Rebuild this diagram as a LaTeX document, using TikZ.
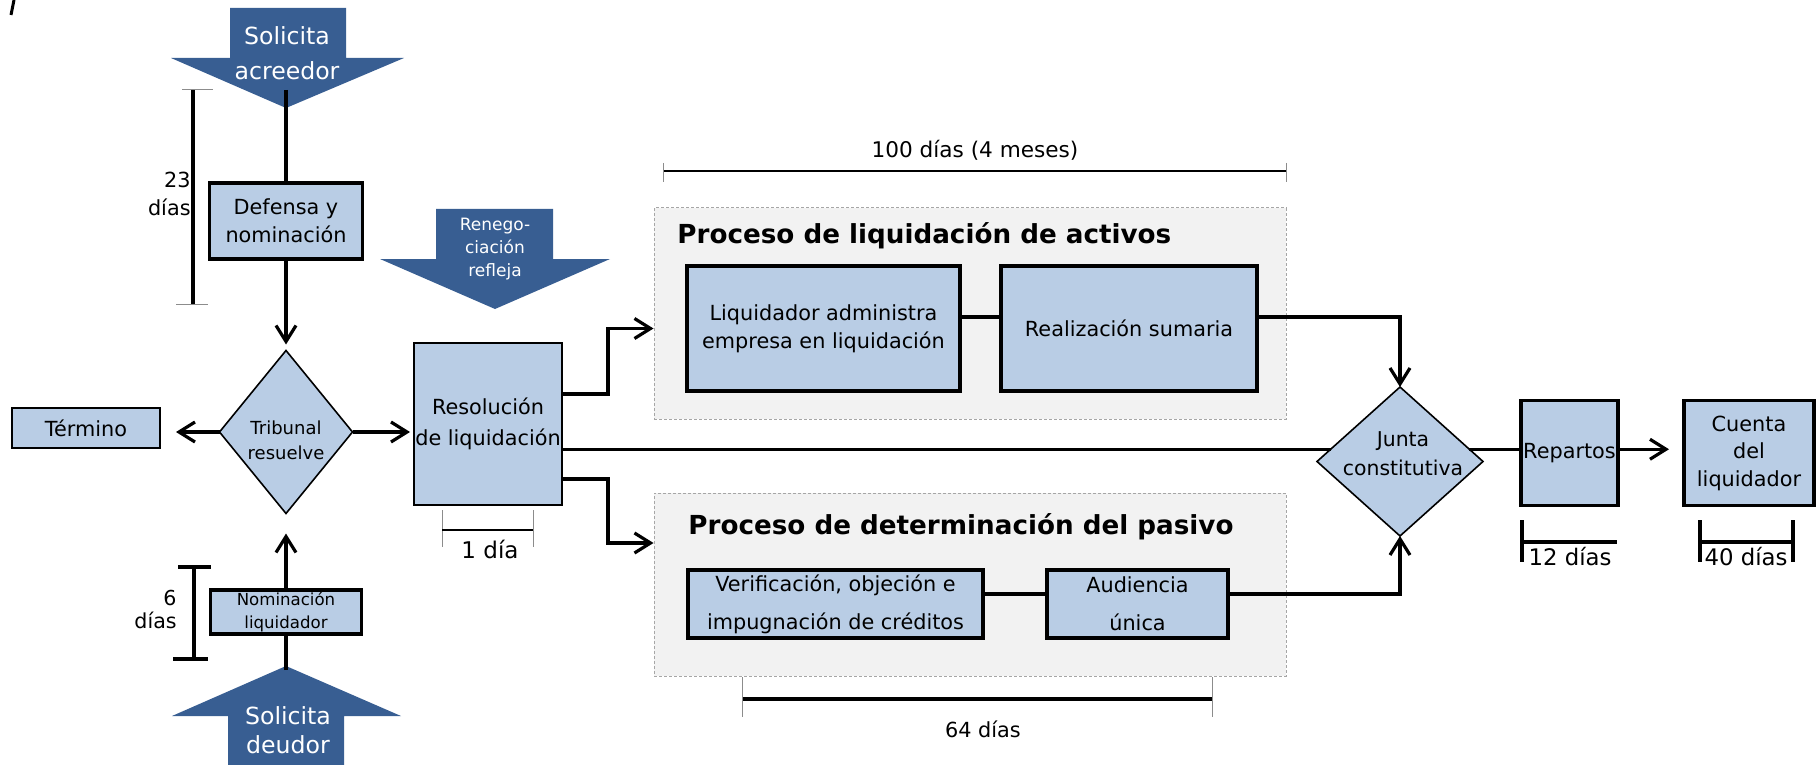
\documentclass[tikz,border=0pt]{standalone}
\usepackage{fontspec}
\setmainfont{DejaVu Sans}
\usetikzlibrary{arrows.meta}
\usetikzlibrary{shapes.geometric}
\definecolor{boxblue}{HTML}{B9CDE5}
\definecolor{darkblue}{HTML}{385E92}
\definecolor{groupgray}{HTML}{F2F2F2}
\definecolor{tickgray}{HTML}{8C8C8C}
\newcommand{\txtsize}[2]{\fontsize{#1}{#2}\selectfont}
\tikzstyle{phase}=[draw, line width=1.9pt, fill=boxblue, inner sep=0, outer sep=0, align=center]
\tikzstyle{thinphase}=[phase, line width=1pt]
\tikzstyle{decision}=[diamond, draw, line width=0.8pt, fill=boxblue, inner sep=0, outer sep=0]
\tikzstyle{groupbox}=[draw=gray!70, dash pattern=on 1.5pt off 1pt, line width=0.5pt, fill=groupgray, inner sep=0]
\tikzstyle{grouptitle}=[anchor=west, inner sep=0, font=\bfseries\txtsize{13.1}{16}]
\tikzstyle{bigarrow}=[fill=darkblue]
\tikzstyle{arrowtext}=[inner sep=0, align=center, text=white]
\tikzstyle{flow}=[line width=1.6pt]
\tikzstyle{flowto}=[flow, -{Straight Barb[length=8pt, width=10pt]}]
\tikzstyle{spanline}=[line width=1.65pt]
\tikzstyle{tickline}=[line width=0.5pt, draw=tickgray]
\tikzstyle{dimtext}=[inner sep=0, align=center]

\begin{document}
\begin{tikzpicture}[x=0.5pt, y=-0.5pt, every node/.style={font=\txtsize{10.4}{14}}]
    \useasboundingbox (0,0) rectangle (1817,765);
    % leftover stroke in the corner
    \draw[line width=1.5pt] (14,0) -- (11,15);

    % entry arrows
    \fill[bigarrow] (230,8) -- (346,8) -- (346,58) -- (404,58) -- (286,108) -- (171,58) -- (230,58) -- cycle;
    \node[arrowtext, font=\txtsize{11.8}{17.5}] (acreedor) at (287,53) {Solicita\\acreedor};
    \coordinate (acreedortip) at (286,90);
    \fill[bigarrow] (436,209) -- (553,209) -- (553,259) -- (610,259) -- (495,309) -- (380,259) -- (436,259) -- cycle;
    \node[arrowtext, font=\txtsize{8.5}{11.5}] (renegociacion) at (495,249) {Renego-\\ciación\\refleja};
    \fill[bigarrow] (228,765) -- (228,716) -- (172,716) -- (286,666) -- (401,716) -- (344,716) -- (344,765) -- cycle;
    \node[arrowtext, font=\txtsize{11.8}{14.5}] (deudor) at (288,730) {Solicita\\deudor};
    \coordinate (deudortip) at (286,670);

    % process groups
    \node[groupbox, minimum width=316pt, minimum height=105.5pt] (activos) at (970,313.5) {};
    \node[grouptitle] (activostitle) at (677,236) {Proceso de liquidación de activos};
    \node[groupbox, minimum width=316pt, minimum height=91.5pt] (pasivo) at (970,584.5) {};
    \node[grouptitle] (pasivotitle) at (688,527) {Proceso de determinación del pasivo};

    % steps
    \node[phase, minimum width=76.5pt, minimum height=38pt] (defensa) at (286,221) {Defensa y\\nominación};
    \node[decision, minimum width=66.5pt, minimum height=81.5pt] (tribunal) at (286,432) {};
    \node[dimtext, font=\txtsize{9}{12.5}] (tribunaltext) at (286,440) {Tribunal\\resuelve};
    \node[thinphase, minimum width=74pt, minimum height=20pt] (termino) at (86,428) {Término};
    \node[phase, minimum width=75.5pt, minimum height=22pt, font=\txtsize{8.3}{11.5}] (nominacion) at (286,612) {Nominación\\liquidador};
    \node[thinphase, minimum width=74pt, minimum height=81pt, font=\txtsize{10.4}{15.5}] (resolucion) at (488,424) {Resolución\\de liquidación};
    \node[phase, minimum width=136.5pt, minimum height=62.5pt] (liquidador) at (823.5,328.5) {Liquidador administra\\empresa en liquidación};
    \node[phase, minimum width=128pt, minimum height=62.5pt] (realizacion) at (1129,328.5) {Realización sumaria};
    \node[phase, minimum width=147.5pt, minimum height=34pt, font=\txtsize{10.4}{19}] (verificacion) at (835.5,604) {Verificación, objeción e\\impugnación de créditos};
    \node[phase, minimum width=90.5pt, minimum height=34pt, font=\txtsize{10.4}{19}] (audiencia) at (1137.5,604) {Audiencia\\única};
    \node[decision, minimum width=83pt, minimum height=74.5pt] (junta) at (1400,461.5) {};
    \node[dimtext, font=\txtsize{10.2}{14.5}] (juntatext) at (1403,454) {Junta\\constitutiva};
    \node[phase, minimum width=48.5pt, minimum height=52.5pt] (repartos) at (1569.5,453) {Repartos};
    \node[phase, minimum width=65pt, minimum height=52.5pt, font=\txtsize{10.4}{13.75}] (cuenta) at (1749,453) {Cuenta\\del\\liquidador};

    % connectors
    \draw[flow] (acreedortip) -- (defensa);
    \draw[flowto, shorten >=3pt] (defensa) -- (tribunal);
    \draw[flowto, shorten >=8pt] (tribunal.west) -- (tribunal.west -| termino.east);
    \draw[flowto, shorten >=2pt] (tribunal.east) -- (tribunal.east -| resolucion.west);
    \draw[flow] (deudortip) -- (nominacion);
    \draw[flowto, shorten >=10pt] (nominacion) -- (tribunal);
    \draw[flowto] ([yshift=15pt]resolucion.east) -- ++(46,0) |- (activos.west |- liquidador);
    \draw[flowto] ([yshift=-27.5pt]resolucion.east) -- ++(46,0) |- ([yshift=20.75pt]pasivo.west);
    \draw[flow] (resolucion.east |- junta.170) -- (junta.170);
    \draw[flow] ([yshift=5.75pt]liquidador.east) -- ([yshift=5.75pt]realizacion.west);
    \draw[flowto] ([yshift=5.75pt]realizacion.east) -| (junta.north);
    \draw[flow] ([yshift=5pt]verificacion.east) -- ([yshift=5pt]audiencia.west);
    \draw[flowto] ([yshift=5pt]audiencia.east) -| (junta.south);
    \draw[flow] (junta.10) -- (repartos.west |- junta.10);
    \draw[flowto, shorten >=7.5pt] (repartos.east |- junta.10) -- (cuenta.west |- junta.10);

    % durations
    \draw[spanline] (193,90) -- (193,304);
    \draw[tickline] (182,90) -- (213,90);
    \draw[tickline] (176,304) -- (208,304);
    \node[dimtext, anchor=east, align=right] (dias23) at (191,194) {23\\días};
    \draw[spanline, line width=2pt] (194,567) -- (194,659);
    \draw[spanline, line width=2pt] (178,567) -- (211,567);
    \draw[spanline, line width=2pt] (173,659) -- (208,659);
    \node[dimtext, anchor=east, align=right, font=\txtsize{10.3}{11.5}] (dias6) at (177,609) {6\\días};
    \draw[tickline] (442,510) -- (442,547);
    \draw[tickline] (533,510) -- (533,547);
    \draw[spanline, line width=1pt] (442,530) -- (533,530);
    \node[dimtext, font=\txtsize{11.5}{14}] (dias1) at (490,549) {1 día};
    \draw[spanline, line width=1pt] (663,171) -- (1286,171);
    \draw[tickline] (663,163) -- (663,182);
    \draw[tickline] (1286,163) -- (1286,182);
    \node[dimtext, font=\txtsize{10.8}{14}] (dias100) at (975,150) {100 días (4 meses)};
    \draw[spanline] (742,699) -- (1212,699);
    \draw[tickline] (742,677) -- (742,717);
    \draw[tickline] (1212,677) -- (1212,717);
    \node[dimtext] (dias64) at (983,729) {64 días};
    \draw[spanline] (1522,520) -- (1522,562);
    \draw[spanline] (1522,542) -- (1617,542);
    \node[dimtext, font=\txtsize{11.4}{14}] (dias12) at (1570,557) {12 días};
    \draw[spanline] (1700,520) -- (1700,562);
    \draw[spanline] (1793,520) -- (1793,562);
    \draw[spanline] (1700,542) -- (1793,542);
    \node[dimtext, font=\txtsize{11.4}{14}] (dias40) at (1746,557) {40 días};
\end{tikzpicture}
\end{document}
